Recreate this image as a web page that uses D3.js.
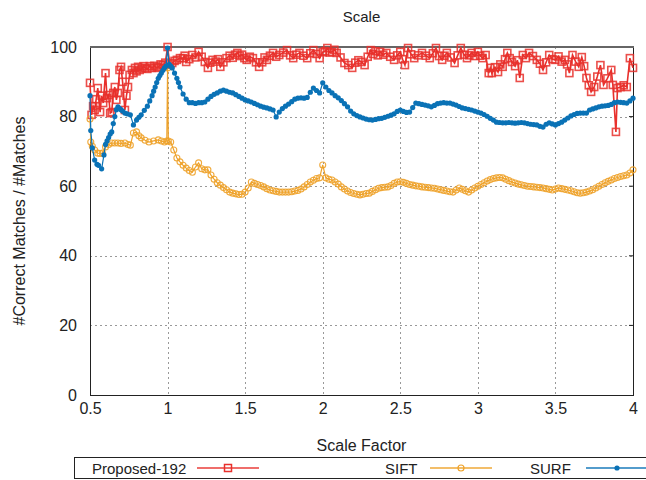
<!DOCTYPE html>
<html>
<head>
<meta charset="utf-8">
<script src="https://d3js.org/d3.v7.min.js"></script>
<style>
  body { margin: 0; background: #fff; }
  text { font-family: "Liberation Sans", Arial, sans-serif; fill: #222; }
</style>
</head>
<body>
<div id="chart"></div>
<script>
// values, [scale factor, % correct]
const proposed = [[0.5,89.7],[0.51,80.5],[0.52,83],[0.53,81.9],[0.54,85],[0.55,88.2],[0.565,81.3],[0.575,86],[0.585,83.9],[0.6,92.5],[0.61,85.3],[0.62,86.2],[0.63,81],[0.64,81.3],[0.65,86.8],[0.66,88.5],[0.67,84.8],[0.68,86.8],[0.69,93.4],[0.7,94.3],[0.71,90],[0.725,81.9],[0.735,86],[0.745,88.5],[0.755,92],[0.77,93.4],[0.78,92.5],[0.79,94],[0.8,93],[0.81,94.3],[0.82,93.4],[0.835,93.8],[0.845,94.5],[0.855,94],[0.87,93.7],[0.885,94.5],[0.9,94],[0.915,94.6],[0.93,94],[0.94,94.3],[0.955,95],[0.97,94.8],[0.985,95.5],[1.0,100],[1.015,95],[1.03,95.4],[1.045,96],[1.06,96.3],[1.08,96.8],[1.1,96.8],[1.11,97.5],[1.12,95.7],[1.14,96.5],[1.16,97.7],[1.18,97],[1.2,98.6],[1.22,97.2],[1.24,95.7],[1.26,94],[1.275,95.5],[1.29,96.3],[1.31,95.8],[1.325,96.5],[1.34,94.3],[1.36,95.6],[1.38,96.8],[1.4,97.5],[1.42,96.9],[1.435,97.8],[1.45,98.3],[1.465,97.4],[1.48,97.8],[1.495,96.8],[1.51,96.3],[1.53,97.2],[1.55,96.8],[1.57,95.6],[1.59,94.3],[1.61,95.6],[1.625,97],[1.64,96.3],[1.66,97.5],[1.68,98.3],[1.7,97.2],[1.72,97.7],[1.745,98.4],[1.77,99.1],[1.79,97.6],[1.81,96.8],[1.83,97.8],[1.85,98.3],[1.875,97.5],[1.9,96.8],[1.92,98.2],[1.94,99.1],[1.96,98],[1.98,96.8],[2.0,98.5],[2.015,98.8],[2.03,99.7],[2.045,98.4],[2.06,98.6],[2.075,99.2],[2.09,98.3],[2.115,97],[2.14,95.4],[2.165,94.8],[2.19,94],[2.21,95.5],[2.23,96.2],[2.25,95.7],[2.27,94.8],[2.29,97.2],[2.31,99.1],[2.325,98],[2.34,98.8],[2.355,97.6],[2.37,98.6],[2.39,97.8],[2.41,98.3],[2.435,97.2],[2.46,96.3],[2.48,97.6],[2.5,98.6],[2.515,96.5],[2.53,94.8],[2.55,99.7],[2.57,97.9],[2.59,96.8],[2.615,97.6],[2.64,98.3],[2.665,97.5],[2.69,96.8],[2.71,98.2],[2.73,99.7],[2.75,97.4],[2.77,96.3],[2.785,97.5],[2.8,98.3],[2.825,97],[2.85,95.4],[2.87,97.6],[2.89,99.7],[2.91,97.8],[2.93,96.8],[2.945,97.6],[2.96,98.3],[2.98,97.4],[3.0,98.6],[3.015,97.5],[3.03,96.8],[3.05,97.7],[3.07,92.5],[3.08,94],[3.09,92.5],[3.11,94.2],[3.13,92.8],[3.145,95],[3.16,94.3],[3.175,96.5],[3.19,98.3],[3.205,96.8],[3.22,95.7],[3.24,94.5],[3.255,96.2],[3.27,91.1],[3.29,97.7],[3.31,96.8],[3.33,98.3],[3.355,97.4],[3.38,96.3],[3.4,95.2],[3.42,93.4],[3.44,95.6],[3.46,97.7],[3.48,96.5],[3.5,96.3],[3.52,97.3],[3.54,95.8],[3.56,96.3],[3.575,95],[3.59,92.5],[3.61,97.7],[3.63,95.8],[3.65,94.3],[3.67,97.1],[3.685,94.5],[3.7,91.1],[3.715,89],[3.73,87.1],[3.75,88.5],[3.77,91.5],[3.79,94.8],[3.81,89.1],[3.835,91],[3.86,93.4],[3.87,89.1],[3.89,75.6],[3.9,88.2],[3.92,88.5],[3.94,89],[3.96,88.5],[3.98,96.8],[4.0,94]];

const sift = [[0.5,79.3],[0.505,72.7],[0.515,71.5],[0.53,70.4],[0.55,69.5],[0.565,69.4],[0.58,69.5],[0.6,71.3],[0.62,72],[0.64,72.4],[0.66,72.4],[0.68,72.4],[0.7,72.3],[0.725,72.4],[0.745,72],[0.76,71.8],[0.78,75.3],[0.8,75.6],[0.815,74.5],[0.83,73.9],[0.855,73.2],[0.88,72.7],[0.91,73],[0.94,73.3],[0.96,73],[0.98,72.7],[0.995,73],[1.0,94],[1.005,73],[1.02,72.7],[1.04,70.4],[1.06,68.1],[1.08,67],[1.1,66],[1.12,65.2],[1.14,64.5],[1.16,64],[1.18,65.5],[1.2,66.7],[1.22,65],[1.24,64.7],[1.26,64.7],[1.28,63.2],[1.3,62],[1.32,61],[1.34,60.3],[1.36,59.6],[1.38,59],[1.4,58.3],[1.42,58],[1.44,57.8],[1.46,57.6],[1.48,57.7],[1.5,58.3],[1.52,59.5],[1.54,61.2],[1.56,60.8],[1.58,60.5],[1.6,60.2],[1.62,59.8],[1.64,59.3],[1.66,58.9],[1.68,58.7],[1.7,58.5],[1.72,58.3],[1.74,58.3],[1.76,58.3],[1.78,58.3],[1.8,58.4],[1.82,58.6],[1.84,58.8],[1.86,59.2],[1.88,59.8],[1.9,60.5],[1.92,61.2],[1.94,61.7],[1.96,62.2],[1.98,62.4],[2.0,66.1],[2.02,62.4],[2.04,62],[2.06,61.8],[2.08,61.2],[2.1,60.6],[2.12,59.8],[2.14,59.2],[2.16,58.6],[2.18,58.2],[2.2,57.9],[2.22,57.7],[2.24,57.5],[2.26,57.7],[2.28,57.9],[2.3,58],[2.32,58.5],[2.34,59],[2.36,59.4],[2.38,59.6],[2.4,59.7],[2.42,59.8],[2.44,60.2],[2.46,60.8],[2.48,61.2],[2.5,61.3],[2.52,61.1],[2.54,60.8],[2.56,60.5],[2.58,60.3],[2.6,60.1],[2.62,60],[2.64,59.8],[2.66,59.7],[2.68,59.6],[2.7,59.5],[2.72,59.4],[2.74,59.2],[2.76,59],[2.78,58.8],[2.8,58.6],[2.82,58.4],[2.84,58.3],[2.86,58.9],[2.88,59.5],[2.9,59.1],[2.92,58.7],[2.94,58.3],[2.96,58.9],[2.98,59.5],[3.0,60],[3.02,60.5],[3.04,61],[3.06,61.5],[3.08,61.9],[3.1,62.2],[3.12,62.4],[3.14,62.5],[3.16,62.4],[3.18,62],[3.2,61.6],[3.22,61.2],[3.24,60.9],[3.26,60.6],[3.28,60.4],[3.3,60.2],[3.32,60],[3.34,59.9],[3.36,59.8],[3.38,59.7],[3.4,59.6],[3.42,59.5],[3.44,59.3],[3.46,59.1],[3.48,58.9],[3.5,59.2],[3.52,59.5],[3.54,59.3],[3.56,59.1],[3.58,58.9],[3.6,58.7],[3.62,58.4],[3.64,58.1],[3.66,58],[3.68,58.1],[3.7,58.3],[3.72,58.6],[3.74,59],[3.76,59.5],[3.78,60],[3.8,60.5],[3.82,61],[3.84,61.4],[3.86,61.8],[3.88,62.2],[3.9,62.5],[3.92,62.8],[3.94,63],[3.96,63.2],[3.98,63.8],[4.0,64.7]];

const surf = [[0.5,86],[0.505,76],[0.515,71],[0.53,67.5],[0.545,66.3],[0.555,66],[0.575,65],[0.59,69],[0.6,72],[0.61,73],[0.62,74],[0.63,75],[0.64,75.6],[0.65,78],[0.66,80],[0.67,82],[0.68,82.8],[0.69,82.4],[0.7,82],[0.71,81.6],[0.725,81],[0.74,80.8],[0.76,80.5],[0.78,77.6],[0.8,79],[0.815,79.8],[0.83,80.5],[0.85,81.8],[0.87,83],[0.885,84.5],[0.9,86],[0.91,87.3],[0.92,88.5],[0.93,89.8],[0.94,91],[0.95,91.8],[0.96,92.5],[0.97,93.3],[0.98,94],[0.99,94.5],[1.0,99.7],[1.01,95],[1.02,94.5],[1.03,94],[1.045,92.5],[1.06,91],[1.07,89.8],[1.08,88.5],[1.1,86.5],[1.12,85],[1.14,84],[1.16,84],[1.18,83.8],[1.2,84],[1.22,84],[1.24,84.2],[1.26,85],[1.28,85.8],[1.3,86.4],[1.32,86.8],[1.34,87.3],[1.36,87.6],[1.38,87.3],[1.4,87],[1.42,86.8],[1.44,86.3],[1.46,85.8],[1.48,85.3],[1.5,84.8],[1.52,84.5],[1.54,84.2],[1.56,83.8],[1.58,83.4],[1.6,83],[1.62,82.7],[1.64,82.5],[1.66,82.2],[1.68,81.9],[1.7,79.9],[1.72,81.3],[1.74,82.3],[1.76,83],[1.78,83.6],[1.8,84.3],[1.82,85],[1.84,85.3],[1.86,85.4],[1.88,85.3],[1.9,85.5],[1.92,87],[1.94,88.2],[1.96,87.5],[1.98,86.8],[2.0,89.7],[2.02,88.5],[2.04,87.5],[2.06,86.8],[2.08,86],[2.1,85.4],[2.12,84.6],[2.14,83.7],[2.16,82.8],[2.18,81.6],[2.2,80.8],[2.22,80.3],[2.24,79.9],[2.26,79.6],[2.28,79.3],[2.3,79.1],[2.32,79],[2.34,79.2],[2.36,79.4],[2.38,79.5],[2.4,79.8],[2.42,80.1],[2.44,80.4],[2.46,80.8],[2.48,81.5],[2.5,81.9],[2.52,81.5],[2.54,81.2],[2.56,81.3],[2.58,82.6],[2.6,83.9],[2.62,83.7],[2.64,83.5],[2.66,83.3],[2.68,83.1],[2.7,82.8],[2.72,83.2],[2.74,83.7],[2.76,83.9],[2.78,84],[2.8,83.9],[2.82,83.9],[2.84,83.6],[2.86,83.3],[2.88,82.9],[2.9,82.5],[2.92,82.3],[2.94,82.1],[2.96,81.9],[2.98,81.6],[3.0,81.3],[3.02,81],[3.04,80.6],[3.06,80.1],[3.08,79.5],[3.1,79],[3.12,78.4],[3.14,78.3],[3.16,78.2],[3.18,78.2],[3.2,78.3],[3.22,78.2],[3.24,78.1],[3.26,78.2],[3.28,78.3],[3.3,78.2],[3.32,78],[3.34,77.8],[3.36,77.7],[3.38,77.6],[3.4,77.2],[3.42,77],[3.44,77.8],[3.46,78.2],[3.48,77.9],[3.5,77.6],[3.52,78],[3.54,78.4],[3.56,79],[3.58,79.6],[3.6,80.2],[3.62,80.6],[3.64,80.9],[3.66,81],[3.68,81],[3.7,81],[3.72,81.9],[3.74,82.2],[3.76,82.5],[3.78,82.8],[3.8,83],[3.82,83.1],[3.84,83.2],[3.86,83.5],[3.88,84],[3.9,84.2],[3.92,84.1],[3.94,84],[3.96,83.9],[3.98,84.5],[4.0,85.3]];

const xTicks = [0.5, 1, 1.5, 2, 2.5, 3, 3.5, 4];
const yTicks = [0, 20, 40, 60, 80, 100];
const legendNames = ["Proposed-192", "SIFT", "SURF"];

const width = 646, height = 480;
const plotL = 90, plotR = 633, plotT = 47, plotB = 395;

const svg = d3.select("#chart").append("svg")
  .attr("width", width)
  .attr("height", height);

const x = d3.scaleLinear().domain([0.5, 4]).range([plotL, plotR]);
const y = d3.scaleLinear().domain([0, 100]).range([plotB, plotT]);

// grid
const grid = svg.append("g")
  .attr("stroke", "#999")
  .attr("stroke-width", 1)
  .attr("stroke-dasharray", "2,3");
grid.selectAll(".gx").data(xTicks.slice(1, -1)).enter().append("line")
  .attr("x1", d => Math.round(x(d)) + 0.5).attr("x2", d => Math.round(x(d)) + 0.5)
  .attr("y1", plotT).attr("y2", plotB);
grid.selectAll(".gy").data(yTicks.slice(1, -1)).enter().append("line")
  .attr("y1", d => Math.round(y(d)) + 0.5).attr("y2", d => Math.round(y(d)) + 0.5)
  .attr("x1", plotL).attr("x2", plotR);

// axes (labels only, frame drawn below)
const xAxis = d3.axisBottom(x).tickValues(xTicks).tickSize(0).tickPadding(8)
  .tickFormat(d3.format("~g"));
const yAxis = d3.axisLeft(y).tickValues(yTicks).tickSize(0).tickPadding(13);

svg.append("g").attr("transform", `translate(0,${plotB})`).call(xAxis)
  .call(g => g.select(".domain").remove())
  .selectAll("text").style("font-size", "16px").attr("fill", "#222");
svg.append("g").attr("transform", `translate(${plotL},0)`).call(yAxis)
  .call(g => g.select(".domain").remove())
  .selectAll("text").style("font-size", "16px").attr("fill", "#222");

// small inward ticks on right side
svg.append("g").selectAll("line").data(yTicks.slice(1, -1)).enter().append("line")
  .attr("x1", plotR - 4).attr("x2", plotR)
  .attr("y1", d => y(d)).attr("y2", d => y(d))
  .attr("stroke", "#222");

// frame
svg.append("rect")
  .attr("x", plotL + 0.5).attr("y", plotT + 0.5)
  .attr("width", plotR - plotL).attr("height", plotB - plotT)
  .attr("fill", "none").attr("stroke", "#222").attr("stroke-width", 1);
svg.append("line")
  .attr("x1", plotL).attr("x2", plotR + 1).attr("y1", plotT).attr("y2", plotT)
  .attr("stroke", "#666").attr("stroke-width", 2);

const line = d3.line().x(d => x(d[0])).y(d => y(d[1]));

const red = "#e8302c", orange = "#eea22a", blue = "#0a72b6";

// Proposed-192
svg.append("path").datum(proposed)
  .attr("d", line).attr("fill", "none")
  .attr("stroke", red).attr("stroke-width", 1.6);
svg.append("g").selectAll("rect").data(proposed).enter().append("rect")
  .attr("x", d => x(d[0]) - 3.5).attr("y", d => y(d[1]) - 3.5)
  .attr("width", 7).attr("height", 7)
  .attr("fill", "none").attr("stroke", red).attr("stroke-width", 1.6)
  .attr("stroke-opacity", 0.85);

// SIFT
svg.append("path").datum(sift)
  .attr("d", line).attr("fill", "none")
  .attr("stroke", orange).attr("stroke-width", 1.2);
svg.append("g").selectAll("circle").data(sift).enter().append("circle")
  .attr("cx", d => x(d[0])).attr("cy", d => y(d[1])).attr("r", 3)
  .attr("fill", "none").attr("stroke", orange).attr("stroke-width", 1.1)
  .attr("stroke-opacity", 0.9);

// SURF
svg.append("path").datum(surf)
  .attr("d", line).attr("fill", "none")
  .attr("stroke", blue).attr("stroke-width", 1.2);
svg.append("g").selectAll("circle").data(surf).enter().append("circle")
  .attr("cx", d => x(d[0])).attr("cy", d => y(d[1])).attr("r", 2.6)
  .attr("fill", blue);

// titles
svg.append("text").attr("x", (plotL + plotR) / 2).attr("y", 22)
  .attr("text-anchor", "middle").style("font-size", "15px").text("Scale");
svg.append("text").attr("x", (plotL + plotR) / 2).attr("y", 451)
  .attr("text-anchor", "middle").style("font-size", "16px").text("Scale Factor");
svg.append("text")
  .attr("transform", `translate(25,${(plotT + plotB) / 2}) rotate(-90)`)
  .attr("text-anchor", "middle").style("font-size", "16px")
  .text("#Correct Matches / #Matches");

// legend
const lg = svg.append("g");
lg.append("rect").attr("x", 74.5).attr("y", 457.5).attr("width", 580).attr("height", 21)
  .attr("fill", "#fff").attr("stroke", "#222");
const legendItems = [
  { name: legendNames[0], tx: 92, lx: 197, color: red, kind: "square" },
  { name: legendNames[1], tx: 385, lx: 430, color: orange, kind: "circle" },
  { name: legendNames[2], tx: 530, lx: 586, color: blue, kind: "dot" }
];
legendItems.forEach(it => {
  lg.append("text").attr("x", it.tx).attr("y", 474).style("font-size", "15px").text(it.name);
  lg.append("line").attr("x1", it.lx).attr("x2", it.lx + 62)
    .attr("y1", 468).attr("y2", 468)
    .attr("stroke", it.color).attr("stroke-width", 1.8).attr("stroke-opacity", 0.7);
  const cx = it.lx + 31;
  if (it.kind === "square") {
    lg.append("rect").attr("x", cx - 3.5).attr("y", 464.5).attr("width", 7).attr("height", 7)
      .attr("fill", "none").attr("stroke", it.color).attr("stroke-width", 1.5);
  } else if (it.kind === "circle") {
    lg.append("circle").attr("cx", cx).attr("cy", 468).attr("r", 3)
      .attr("fill", "none").attr("stroke", it.color).attr("stroke-width", 1.2);
  } else {
    lg.append("circle").attr("cx", cx).attr("cy", 468).attr("r", 2.6).attr("fill", it.color);
  }
});
</script>
</body>
</html>
